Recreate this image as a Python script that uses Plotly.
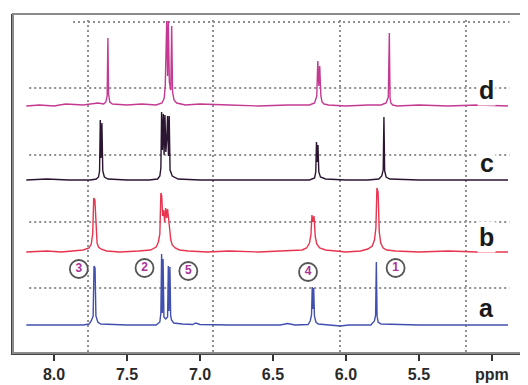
import plotly.graph_objects as go

# ---- data (ppm, intensity above own baseline) ----
a_ppm = [8.19, 7.95, 7.80, 7.76, 7.745, 7.732, 7.726, 7.719, 7.713, 7.70, 7.68, 7.50, 7.30, 7.275, 7.268, 7.263, 7.258, 7.253, 7.247, 7.235, 7.222, 7.217, 7.212, 7.206, 7.201, 7.195, 7.18, 7.12, 7.05, 7.03, 7.00, 6.80, 6.45, 6.40, 6.35, 6.26, 6.245, 6.236, 6.231, 6.226, 6.221, 6.216, 6.206, 6.19, 6.10, 6.04, 5.98, 5.83, 5.805, 5.797, 5.792, 5.787, 5.78, 5.76, 5.50, 4.89]
a_int = [0, 0, 0, 1, 4, 9, 59, 57, 9, 3, 1, 0, 0, 3, 12, 71, 12, 66, 8, 6, 8, 59, 14, 58, 9, 5, 2, 1, 0.5, 2, 0.5, 0, 0, 1.5, 0, 0.5, 4, 10, 38, 16, 37, 9, 3, 1, 0, -1, 0, 0, 4, 10, 63, 9, 3, 1, 0, 0]

b_ppm = [8.19, 8.05, 7.95, 7.86, 7.80, 7.76, 7.745, 7.735, 7.728, 7.720, 7.712, 7.705, 7.695, 7.68, 7.64, 7.55, 7.42, 7.34, 7.30, 7.285, 7.275, 7.268, 7.262, 7.256, 7.249, 7.242, 7.235, 7.228, 7.222, 7.215, 7.208, 7.200, 7.19, 7.17, 7.14, 7.08, 6.95, 6.80, 6.60, 6.40, 6.30, 6.27, 6.25, 6.24, 6.233, 6.226, 6.219, 6.21, 6.20, 6.18, 6.14, 6.00, 5.90, 5.85, 5.82, 5.805, 5.795, 5.788, 5.780, 5.772, 5.762, 5.745, 5.72, 5.66, 5.50, 5.30, 5.10, 4.89]
b_int = [0, 1, 0, 1, 2, 4, 8, 18, 54, 52, 20, 9, 5, 3, 1, 0, 1, 2, 5, 10, 18, 59, 56, 36, 42, 30, 44, 34, 43, 35, 22, 12, 7, 4, 2, 1, 0, 1, 0, 1, 2, 4, 9, 17, 37, 30, 36, 15, 8, 4, 2, 0, 1, 3, 6, 12, 24, 64, 60, 20, 9, 4, 2, 1, 0, 1, 0, 0]

c_ppm = [8.19, 8.05, 7.90, 7.75, 7.71, 7.695, 7.688, 7.683, 7.678, 7.672, 7.666, 7.655, 7.63, 7.50, 7.35, 7.29, 7.275, 7.268, 7.263, 7.258, 7.251, 7.246, 7.240, 7.234, 7.228, 7.222, 7.216, 7.211, 7.205, 7.19, 7.15, 7.00, 6.70, 6.40, 6.25, 6.215, 6.207, 6.202, 6.197, 6.192, 6.186, 6.175, 6.14, 6.00, 5.85, 5.775, 5.755, 5.745, 5.740, 5.735, 5.725, 5.70, 5.50, 5.20, 4.89]
c_int = [0, 1, 0, 0, 1, 3, 9, 60, 22, 57, 9, 3, 1, 0, 0, 1, 4, 12, 68, 30, 66, 25, 65, 28, 40, 64, 24, 64, 10, 4, 1, 0, 0, 0, 0, 2, 8, 38, 18, 35, 8, 3, 1, 0, 0, 1, 4, 10, 63, 9, 3, 1, 0, 0, 0]

d_ppm = [8.19, 8.10, 8.00, 7.92, 7.80, 7.70, 7.66, 7.645, 7.636, 7.631, 7.626, 7.618, 7.60, 7.50, 7.40, 7.30, 7.26, 7.245, 7.238, 7.233, 7.228, 7.222, 7.217, 7.210, 7.200, 7.194, 7.188, 7.178, 7.16, 7.10, 7.00, 6.80, 6.60, 6.40, 6.25, 6.215, 6.200, 6.193, 6.186, 6.180, 6.172, 6.164, 6.150, 6.12, 6.00, 5.85, 5.76, 5.725, 5.710, 5.703, 5.698, 5.692, 5.680, 5.65, 5.50, 5.30, 5.10, 4.89]
d_int = [0, 1, 0, 2, 1, 3, 2, 4, 10, 68, 12, 4, 2, 1, 2, 1, 3, 8, 20, 85, 85, 30, 85, 24, 16, 80, 14, 6, 3, 1, 2, 1, 0, 1, 1, 3, 10, 45, 20, 40, 10, 4, 2, 1, 0, 1, 1, 3, 9, 73, 8, 3, 1, 0, 1, 0, 1, 0]

spec_names = ["a", "b", "c", "d"]
spec_offsets = [28, 101, 173, 247]
spec_colors = ["#4150b0", "#e8344f", "#2b1530", "#c43a92"]
label_y = [45, 116, 190, 263]

peak_labels = ["3", "2", "5", "4", "1"]
peak_label_x = [7.83, 7.38, 7.08, 6.26, 5.66]
peak_label_y = [84, 85, 82, 81, 85]

tick_vals = [8.0, 7.5, 7.0, 6.5, 6.0, 5.5, 5.0]
tick_text = ["8.0", "7.5", "7.0", "6.5", "6.0", "5.5", "ppm"]

vgrid_x = [7.767, 6.911, 6.041, 5.178]
hgrid_y = [65, 131, 198, 265, 331]

spectra = [(a_ppm, a_int), (b_ppm, b_int), (c_ppm, c_int), (d_ppm, d_int)]

fig = go.Figure()

shapes = []
grid_line = dict(color="#8f8f8f", width=2, dash="2px,3px")
for gx in vgrid_x:
    shapes.append(dict(type="line", xref="x", yref="y", x0=gx, x1=gx, y0=1, y1=333,
                       line=grid_line, layer="below"))
for i, gy in enumerate(hgrid_y):
    x0 = 7.87 if i == len(hgrid_y) - 1 else 8.17
    shapes.append(dict(type="line", xref="x", yref="y", x0=x0, x1=4.88, y0=gy, y1=gy,
                       line=grid_line, layer="below"))
# frame
shapes.append(dict(type="rect", xref="paper", yref="paper", x0=0, x1=1, y0=0, y1=1,
                   line=dict(color="#8a8a8a", width=2), layer="above"))

for (ppm, inten), name, off, col in zip(spectra, spec_names, spec_offsets, spec_colors):
    fig.add_trace(go.Scatter(x=ppm, y=[v + off for v in inten], mode="lines",
                             line=dict(color=col, width=1.4), name=name,
                             hoverinfo="skip", showlegend=False))

fig.add_trace(go.Scatter(x=peak_label_x, y=peak_label_y, mode="markers+text",
                         text=["<b>%s</b>" % t for t in peak_labels], textposition="middle center",
                         textfont=dict(family="Liberation Sans, Arial", size=12, color="#a8339a"),
                         marker=dict(symbol="circle", size=18, color="white",
                                     line=dict(color="#555555", width=1.8)),
                         showlegend=False, hoverinfo="skip"))

annotations = []
for name, ly in zip(spec_names, label_y):
    annotations.append(dict(x=5.034, y=ly, xref="x", yref="y", text="<b>%s</b>" % name,
                            showarrow=False, bgcolor="white",
                            font=dict(family="Liberation Sans, Arial", size=25, color="#1a1a1a")))

# the page body has an 8px margin, so the figure is sized 8px smaller to fit the window
fig.update_layout(
    width=520, height=377,
    margin=dict(l=5, r=7, t=6, b=32, autoexpand=False),
    paper_bgcolor="white", plot_bgcolor="white",
    shapes=shapes, annotations=annotations,
    xaxis=dict(range=[8.281, 4.801], tickvals=tick_vals, automargin=False,
               ticktext=["<b>%s</b>" % t for t in tick_text],
               ticks="outside", ticklen=6, tickwidth=2, tickcolor="#333333",
               showgrid=False, zeroline=False, showline=True, linecolor="#444444", linewidth=2,
               tickfont=dict(family="Liberation Sans, Arial", size=16, color="#2a2a2a")),
    yaxis=dict(range=[0, 339], showticklabels=False, showgrid=False, zeroline=False,
               automargin=False,
               showline=True, linecolor="#444444", linewidth=2, ticks=""),
)

fig.write_html("out.html")
